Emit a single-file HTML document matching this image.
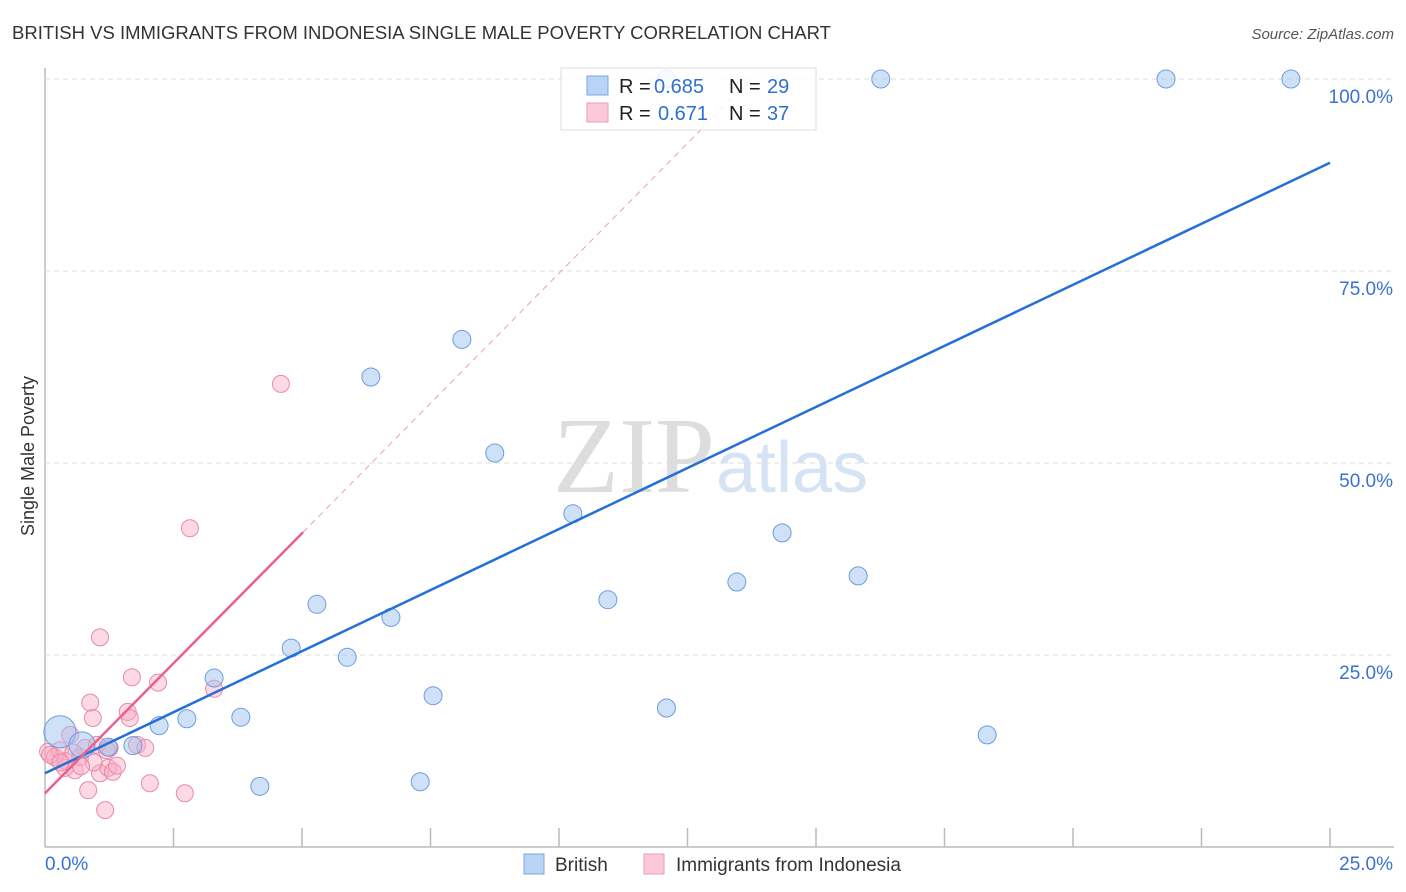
<!DOCTYPE html>
<html><head><meta charset="utf-8">
<style>
body{margin:0;background:#fff;font-family:"Liberation Sans",sans-serif;}
#wrap{position:relative;width:1406px;height:892px;overflow:hidden;}
</style></head>
<body>
<div id="wrap">
<svg id="chart" width="1406" height="892" xmlns="http://www.w3.org/2000/svg">
<text x="12" y="39" font-size="18.5" fill="#333">BRITISH VS IMMIGRANTS FROM INDONESIA SINGLE MALE POVERTY CORRELATION CHART</text>
<text x="1394" y="39" font-size="15" fill="#555" text-anchor="end" font-style="italic">Source: ZipAtlas.com</text>
<text x="34" y="456" font-size="18" fill="#333" text-anchor="middle" transform="rotate(-90 34 456)">Single Male Poverty</text>
<text x="553" y="492" font-size="108" fill="#ddd" font-family="Liberation Serif,serif">ZIP</text>
<text x="716" y="492" font-size="72" fill="#d5e3f5">atlas</text>
<g id="grid"></g>
<g id="marks"></g>
</svg>
</div>
<script>
const xTickLabels=["0.0%","25.0%"];
const yTicks=[25,50,75,100];
const yTickLabels=["25.0%","50.0%","75.0%","100.0%"];
const britishX=[0.29,0.72,1.23,1.71,2.22,2.76,3.29,3.81,4.18,4.79,5.29,5.88,6.34,6.73,7.30,7.55,8.11,8.75,10.27,10.95,12.09,13.46,14.34,15.82,18.33,16.26,21.81,24.24,12.09];
const britishY=[15.0,13.3,13.0,13.2,15.8,16.7,22.0,16.9,7.9,25.9,31.6,24.7,61.2,29.9,8.5,19.7,66.1,51.3,43.4,32.2,18.1,34.5,40.9,35.3,14.6,100,100,100,100];
const britishR=[16,13,9,9,9,9,9,9,9,9,9,9,9,9,9,9,9,9,9,9,9,9,9,9,9,9,9,9,9];
const indoX=[0.06,0.19,0.29,0.39,0.49,0.58,0.68,0.78,0.84,0.88,0.93,1.01,1.07,1.07,1.17,1.23,1.26,1.32,1.61,1.65,1.69,1.79,1.95,2.04,2.20,2.72,2.82,3.29,4.59,0.1,0.4,0.55,0.95,1.4,0.3,1.2,0.7];
const indoY=[12.4,11.7,12.6,10.3,14.6,10.0,11.7,12.9,7.4,18.8,16.8,13.3,27.3,9.6,4.8,10.3,12.9,9.8,17.6,16.8,22.1,13.3,12.9,8.3,21.4,7.0,41.5,20.6,60.3,12.0,11.2,12.3,11.0,10.6,11.0,12.6,10.5];
const britishLine=[9.6,89.1];
const indoLine=[7.0,6.77];
const NS="http://www.w3.org/2000/svg";
const X=v=>45+v*51.4, Y=v=>847-v*7.68;
function mk(t,a,p){const e=document.createElementNS(NS,t);for(const k in a)e.setAttribute(k,a[k]);p.appendChild(e);return e;}
const grid=document.getElementById('grid'),marks=document.getElementById('marks');
let ax=mk('line',{x1:45,y1:68,x2:45,y2:847,stroke:'#bbb','stroke-width':1.5},grid);

let bx=mk('line',{x1:45,y1:847,x2:1394,y2:847,stroke:'#bbb','stroke-width':1.5},grid);

for(let i=1;i<=10;i++){const t=mk('line',{x1:45+i*128.5,y1:828,x2:45+i*128.5,y2:847,stroke:'#bbb','stroke-width':1.5},grid);
}
yTicks.forEach((v,i)=>{const g=mk('line',{x1:45,y1:Y(v),x2:1394,y2:Y(v),stroke:'#ddd','stroke-dasharray':'5,4'},grid);

const t=mk('text',{x:1393,y:Y(v)+24,'font-size':19,fill:'#3a72d0','text-anchor':'end'},grid);t.textContent=yTickLabels[i];
});
[[0,'start',45],[1,'end',1393]].forEach(([i,a,x])=>{const t=mk('text',{x:x,y:870,'font-size':19,fill:'#3a72d0','text-anchor':a},grid);t.textContent=xTickLabels[i];
});
indoX.forEach((x,i)=>{const c=mk('circle',{cx:X(x),cy:Y(indoY[i]),r:8.5,fill:'rgba(248,170,195,0.45)',stroke:'#e88aa8','stroke-width':1},marks);
});
britishX.forEach((x,i)=>{const c=mk('circle',{cx:X(x),cy:Y(britishY[i]),r:britishR[i],fill:'rgba(160,195,240,0.5)',stroke:'#6f9be0','stroke-width':1},marks);
});
let bl=mk('line',{x1:X(0),y1:Y(britishLine[0]),x2:X(25),y2:Y(britishLine[1]),stroke:'#2470d8','stroke-width':2.5},marks);

const xe=(100-indoLine[0])/indoLine[1];
let pd=mk('line',{x1:X(5.02),y1:Y(indoLine[0]+indoLine[1]*5.02),x2:X(xe),y2:Y(100),stroke:'#e8a0b5','stroke-width':1,'stroke-dasharray':'6,5'},marks);

let pl=mk('line',{x1:X(0),y1:Y(indoLine[0]),x2:X(5.02),y2:Y(indoLine[0]+indoLine[1]*5.02),stroke:'#e8628c','stroke-width':2.5},marks);

const lg=mk('g',{},marks);
mk('rect',{x:561,y:68,width:255,height:62,fill:'rgba(255,255,255,0.85)',stroke:'#ddd'},lg);
mk('rect',{x:587,y:76,width:21,height:19,fill:'#b9d3f5',stroke:'#7aa5e3'},lg);
mk('rect',{x:587,y:103,width:21,height:19,fill:'#fbc9d7',stroke:'#ee9ab4'},lg);
[[93,'0.685','29',654],[120,'0.671','37',658]].forEach(([y,r,n,rx])=>{
let t=mk('text',{x:619,y:y,'font-size':20,fill:'#222'},lg);t.textContent='R =';
t=mk('text',{x:rx,y:y,'font-size':20,fill:'#2f6fd0'},lg);t.textContent=r;
t=mk('text',{x:729,y:y,'font-size':20,fill:'#222'},lg);t.textContent='N =';
t=mk('text',{x:767,y:y,'font-size':20,fill:'#2f6fd0'},lg);t.textContent=n;});
const bl2=mk('g',{},marks);
mk('rect',{x:524,y:854,width:20,height:20,fill:'#b9d3f5',stroke:'#7aa5e3'},bl2);
let t1=mk('text',{x:555,y:871,'font-size':19,fill:'#333'},bl2);t1.textContent='British';

mk('rect',{x:644,y:854,width:20,height:20,fill:'#fbc9d7',stroke:'#ee9ab4'},bl2);
let t2=mk('text',{x:676,y:871,'font-size':19,fill:'#333'},bl2);t2.textContent='Immigrants from Indonesia';

</script>
</body></html>
